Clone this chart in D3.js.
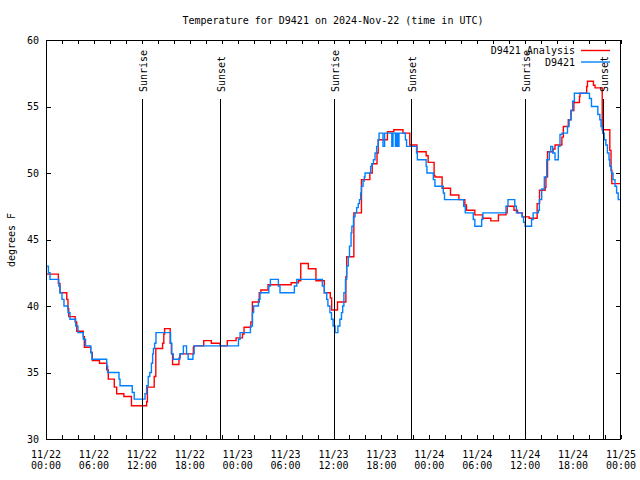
<!DOCTYPE html>
<html>
<head>
<meta charset="utf-8">
<script src="https://cdn.jsdelivr.net/npm/d3@7"></script>
<style>
  body { margin: 0; background: #fff; }
  svg { display: block; }
  text { font-family: "DejaVu Sans Mono", monospace; font-size: 10px; fill: #000; }
</style>
</head>
<body>
<svg id="chart" width="640" height="480"></svg>
<script>
// ---- data (hours since 2024-11-22 00:00 UTC, degrees F) ----
const obsHours = [0,0.3,0.5,1.6,1.75,2.0,2.25,2.75,3.0,3.72,4.0,4.67,4.95,5.6,5.75,7.6,7.72,9.14,9.27,10.8,11.05,12.4,12.6,12.8,13.0,13.2,13.35,13.45,13.6,13.77,15.6,15.75,15.95,16.75,17.2,17.6,17.8,18.4,18.55,24.1,24.3,25.6,25.85,26.0,26.6,26.8,27.9,28.1,29.1,29.3,31.1,31.4,34.6,34.85,35.15,35.3,35.55,35.75,35.95,36.2,36.55,36.8,37.0,37.15,37.3,37.5,37.65,37.85,38.0,38.2,38.3,38.5,38.7,38.9,39.1,39.25,39.4,39.5,39.7,39.85,39.95,40.65,40.8,41.0,41.2,41.4,41.6,41.7,42.2,42.4,43.3,43.45,43.75,43.9,44.05,44.2,45.0,45.15,46.4,46.5,47.6,47.7,48.5,48.7,49.75,49.9,52.3,52.5,53.5,53.7,54.55,54.7,57.6,57.85,58.7,58.9,59.6,59.8,60.0,60.8,61.0,61.65,61.78,62.07,62.4,62.7,63.03,63.2,63.45,63.74,64.15,64.36,64.6,65.3,65.5,65.74,65.95,66.16,68.05,68.3,69.1,69.35,69.5,69.7,69.9,70.1,70.3,70.5,70.6,70.8,71.0,71.25,71.45,71.65,71.9];
const obsTemps = [43.0,42.5,42.0,41.5,41.0,40.5,40.0,39.5,39.0,38.5,38.0,37.5,37.0,36.5,36.0,35.5,35.0,34.5,34.0,33.5,33.0,33.4,34.0,34.7,35.0,35.7,36.4,36.8,37.2,38.0,37.2,36.4,36.0,36.4,37.0,36.4,36.0,36.4,37.0,37.5,38.0,38.5,39.5,40.0,40.5,41.0,41.5,42.0,41.5,41.0,41.5,42.0,41.5,41.0,40.5,40.0,39.5,39.0,38.5,38.0,38.5,39.0,39.5,40.0,41.0,42.0,43.0,43.7,44.5,45.5,46.0,46.7,47.0,47.4,47.7,48.0,48.5,49.0,49.4,49.7,50.0,50.5,50.7,51.0,51.5,52.0,52.5,53.0,52.0,53.0,52.0,53.0,52.0,53.0,52.0,53.0,52.5,52.0,51.5,51.0,50.5,50.0,49.5,49.0,48.5,48.0,47.5,47.0,46.5,46.0,46.5,47.0,47.5,48.0,47.5,47.0,46.7,46.3,46.0,46.5,47.0,47.2,48.0,48.8,49.7,51.0,51.6,52.0,51.5,51.0,52.0,52.9,53.0,53.5,54.0,54.7,55.4,56.0,55.6,55.0,54.4,54.0,53.5,53.0,52.5,52.1,51.5,51.0,50.5,50.0,49.5,49.0,48.5,48.0,48.0];

const anaHours = [0,1.55,1.75,2.6,2.75,2.85,3.65,3.85,4.67,4.8,5.6,5.8,6.7,7.6,7.8,8.55,8.85,9.75,10.7,12.6,12.7,13.55,13.75,14.6,14.75,14.85,15.55,15.7,15.85,16.65,16.8,18.45,18.55,19.75,20.7,21.8,22.7,23.8,24.6,24.8,25.65,25.84,26.7,26.9,27.8,30.7,31.6,31.9,32.85,33.8,34.85,35.6,35.77,36.5,37.55,37.65,38.55,39.5,40.55,40.85,41.45,41.6,42.75,43.55,44.7,45.55,46.45,47.6,47.85,48.6,48.7,49.6,50.65,51.7,52.45,52.65,53.7,54.65,55.7,56.65,57.6,57.75,58.6,59.05,59.65,60.5,61.5,61.8,62.5,62.6,62.8,63.5,63.74,64.6,64.78,65.4,65.74,66.1,66.8,66.87,67.7,67.8,68.55,68.75,69.65,70.6,70.75,70.85,71.9];
const anaTemps = [42.4,41.7,41.0,40.5,39.8,39.2,38.8,38.1,37.7,36.9,36.5,35.9,35.7,35.2,34.5,33.9,33.4,33.2,32.5,32.8,33.9,34.7,36.8,37.2,37.9,38.3,37.2,36.4,35.6,36.1,36.4,36.9,37.0,37.4,37.2,37.0,37.4,37.6,37.9,38.4,38.8,40.3,41.0,41.2,41.6,41.75,41.9,43.2,42.8,41.9,41.0,40.6,39.7,40.3,42.2,43.7,47.0,49.5,50.0,50.7,51.5,52.5,53.1,53.25,53.0,52.1,51.6,51.3,50.8,49.8,49.7,48.85,48.35,48.0,47.6,47.2,46.85,46.6,46.4,46.85,47.0,47.5,47.2,47.0,46.7,46.6,47.7,48.7,48.9,49.7,51.6,51.8,52.1,52.7,53.5,54.0,54.7,55.3,55.75,56.0,56.5,56.9,56.6,56.4,53.25,51.7,50.2,49.2,49.2];

const sunEvents = ["Sunrise","Sunset","Sunrise","Sunset","Sunrise","Sunset"];
const sunHours  = [12.0, 21.75, 36.0, 45.65, 60.0, 69.7];

const yTicks = [30,35,40,45,50,55,60];
const titleText = "Temperature for D9421 on 2024-Nov-22 (time in UTC)";
const yLabel = "degrees F";
const seriesNames = ["D9421 Analysis","D9421"];
const seriesColors = ["#ff0000","#0080ff"];

// ---- helpers ----
const t0 = Date.UTC(2024,10,22,0,0,0);
const toDate = h => new Date(t0 + h*3600000);

const svg = d3.select("#chart");
svg.append("rect").attr("width",640).attr("height",480).attr("fill","#fff");

const L = 46, R = 621, T = 40, B = 439;
const x = d3.scaleUtc().domain([toDate(0), toDate(72)]).range([L, R]);
const y = d3.scaleLinear().domain([30, 60]).range([B, T]);

// title
svg.append("text").attr("x",333).attr("y",24).attr("text-anchor","middle").text(titleText);

// y axis label
svg.append("text").attr("transform","translate(15,240) rotate(-90)")
  .attr("text-anchor","middle").text(yLabel);

// axes (ticks inward)
const tickEvery2h = d3.utcHour.every(2).range(toDate(0), toDate(72.01));
const bottomAxis = d3.axisTop(x).tickValues(tickEvery2h).tickSize(4).tickFormat("");
const topAxis = d3.axisBottom(x).tickValues(tickEvery2h).tickSize(4).tickFormat("");
const leftAxis = d3.axisRight(y).tickValues(yTicks).tickSize(5).tickFormat("");
const rightAxis = d3.axisLeft(y).tickValues(yTicks).tickSize(5).tickFormat("");

function styleAxis(g){
  g.select(".domain").remove();
  g.selectAll("line").attr("stroke","#000").attr("shape-rendering","crispEdges");
}
svg.append("g").attr("transform",`translate(0,${B})`).call(bottomAxis).call(styleAxis);
svg.append("g").attr("transform",`translate(0,${T})`).call(topAxis).call(styleAxis);
svg.append("g").attr("transform",`translate(${L},0)`).call(leftAxis).call(styleAxis);
svg.append("g").attr("transform",`translate(${R},0)`).call(rightAxis).call(styleAxis);

// y tick labels
svg.append("g").selectAll("text").data(yTicks).join("text")
  .attr("x",39).attr("y",d=>y(d)+3.5).attr("text-anchor","end").text(d=>d);

// x tick labels every 6h (two lines)
const labelTicks = d3.utcHour.every(6).range(toDate(0), toDate(72.01));
const fmtDay = d3.utcFormat("%m/%d"), fmtTime = d3.utcFormat("%H:%M");
const xl = svg.append("g").selectAll("g").data(labelTicks).join("g");
xl.append("text").attr("x",d=>x(d)).attr("y",458).attr("text-anchor","middle").text(d=>fmtDay(d));
xl.append("text").attr("x",d=>x(d)).attr("y",469).attr("text-anchor","middle").text(d=>fmtTime(d));

// series
const line = d3.line().curve(d3.curveStepAfter).x(d=>x(toDate(d[0]))).y(d=>y(d[1]));
const anaData = anaHours.map((h,i)=>[h,anaTemps[i]]);
const obsData = obsHours.map((h,i)=>[h,obsTemps[i]]);
const plot = svg.append("g");
plot.append("path").datum(anaData).attr("d",line).attr("fill","none")
  .attr("stroke",seriesColors[0]).attr("stroke-width",1.4);
plot.append("path").datum(obsData).attr("d",line).attr("fill","none")
  .attr("stroke",seriesColors[1]).attr("stroke-width",1.4);

// sunrise / sunset lines and labels
const ev = svg.append("g").selectAll("g").data(sunHours.map((h,i)=>({h, name:sunEvents[i]}))).join("g");
ev.append("line").attr("x1",d=>Math.round(x(toDate(d.h)))+0.5).attr("x2",d=>Math.round(x(toDate(d.h)))+0.5)
  .attr("y1",99).attr("y2",B).attr("stroke","#000").attr("stroke-width",1);
ev.append("text").attr("transform",d=>`translate(${Math.round(x(toDate(d.h)))+5},92) rotate(-90)`)
  .attr("text-anchor","start").text(d=>d.name);

// legend
const lg = svg.append("g").selectAll("g").data(seriesNames).join("g")
  .attr("transform",(d,i)=>`translate(0,${50.5 + i*11.5})`);
lg.append("text").attr("x",575).attr("y",3.5).attr("text-anchor","end").text(d=>d);
lg.append("line").attr("x1",581).attr("x2",610).attr("y1",0).attr("y2",0)
  .attr("stroke",(d,i)=>seriesColors[i]).attr("stroke-width",1.4);

// frame
svg.append("rect").attr("x",L+0.5).attr("y",T+0.5).attr("width",R-L-1).attr("height",B-T)
  .attr("fill","none").attr("stroke","#000").attr("stroke-width",1);
</script>
</body>
</html>
